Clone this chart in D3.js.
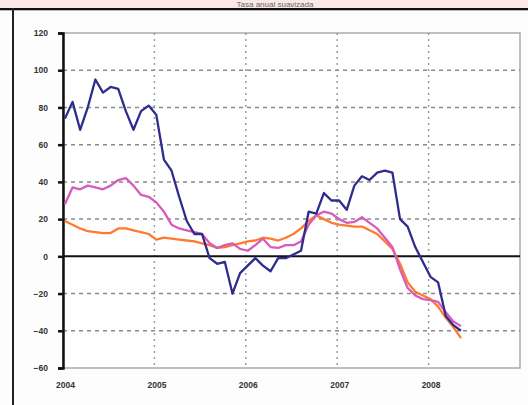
<!DOCTYPE html>
<html><head><meta charset="utf-8">
<script src="https://cdn.jsdelivr.net/npm/d3@7"></script>
<style>
html,body{margin:0;padding:0;background:#fdfdfd;}
svg{display:block;}
</style></head>
<body>
<svg id="c" width="528" height="405"></svg>
<script>
const title = "Tasa anual suavizada";
const startYear = 2004;
const yearTicks = [2004, 2005, 2006, 2007, 2008];
const yTicks = [-60, -40, -20, 0, 20, 40, 60, 80, 100, 120];
// monthly values Jan 2004 .. May 2008
const blue = [74,83,68,80,95,88,91,90,78,68,78,81,76,52,46,32,19,12,12,-1,-4,-3,-20,-9,-5,-1,-5,-8,-1,-1,1,3,24,23,34,30,30,25,38,43,41,45,46,45,20,16,5,-3,-11,-14,-32,-37,-40];
const magenta = [28,37,36,38,37,36,38,41,42,38,33,32,29,24,17,15,14,13,12,7,4.5,6,7,4,3,6,9.5,5,4.5,6,6,8,17,22,24,23,20,18,18.5,21,18,15,10,5,-7,-17,-21,-23,-23.5,-24.5,-30,-35,-37.5];
const orange = [19,17,15,13.5,13,12.5,12.5,15,15,14,13,12,9,10,9.5,9,8.5,8,7,6,4.5,5,6,7,8,8.5,10,9.5,8.5,10,12,15,19,22,20,18,17,16.5,16,16,14,12,8,4,-4,-14,-19,-21,-23,-27,-33,-38,-44];
const seriesColors = ["#ff7a2e", "#d65cbc", "#2e2c8c"];

const svg = d3.select("#c");
// top strip
svg.append("rect").attr("x",0).attr("y",0).attr("width",528).attr("height",8).attr("fill","#fbe8e6");
svg.append("text").attr("x",275).attr("y",7).attr("text-anchor","middle")
  .attr("font-family","Liberation Sans, Arial, sans-serif").attr("font-size",8).attr("fill","#666").text(title);
svg.append("rect").attr("x",0).attr("y",8).attr("width",528).attr("height",2).attr("fill","#111");
svg.append("rect").attr("x",0).attr("y",10).attr("width",528).attr("height",1).attr("fill","#bbb");
svg.append("rect").attr("x",12).attr("y",8).attr("width",2).attr("height",397).attr("fill","#222");

const x = d3.scaleLinear().domain([2004, 2009]).range([63, 520]);
const y = d3.scaleLinear().domain([-60, 120]).range([368, 33]);

// plot frame
svg.append("rect").attr("x",63).attr("y",33).attr("width",457).attr("height",335)
  .attr("fill","#fff").attr("stroke","#aaa").attr("stroke-width",1.5);

// horizontal grid
svg.append("g").selectAll("line").data(yTicks.filter(v=>v!==0 && v!==120 && v!==-60)).join("line")
  .attr("x1",63).attr("x2",520).attr("y1",d=>y(d)).attr("y2",d=>y(d))
  .attr("stroke","#8a8a8a").attr("stroke-width",1.5).attr("stroke-dasharray","4,4");
// vertical grid
svg.append("g").selectAll("line").data(yearTicks.slice(1)).join("line")
  .attr("x1",d=>x(d)).attr("x2",d=>x(d)).attr("y1",33).attr("y2",368)
  .attr("stroke","#9a9a9a").attr("stroke-width",1.5).attr("stroke-dasharray","2,4");

// zero line
svg.append("line").attr("x1",63).attr("x2",520).attr("y1",y(0)).attr("y2",y(0))
  .attr("stroke","#111").attr("stroke-width",2);

// left axis
const yAxis = d3.axisLeft(y).tickValues(yTicks).tickSize(5).tickPadding(9);
const ga = svg.append("g").attr("transform","translate(63,0)").call(yAxis);
ga.select(".domain").attr("stroke","#111").attr("stroke-width",2.5);
ga.selectAll(".tick line").attr("stroke","#111").attr("stroke-width",2.5);
ga.selectAll("text").attr("font-family","Liberation Sans, Arial, sans-serif").attr("font-size",8.5)
  .attr("fill","#333").attr("font-weight","bold").attr("dx","-1");

// x labels
const xAxis = d3.axisBottom(x).tickValues(yearTicks).tickFormat(d3.format("d")).tickSize(0).tickPadding(14);
const gx = svg.append("g").attr("transform","translate(2,368)").call(xAxis);
gx.select(".domain").remove();
gx.selectAll("text").attr("font-family","Liberation Sans, Arial, sans-serif").attr("font-size",8.5)
  .attr("fill","#333").attr("font-weight","bold");

const line = d3.line().x((d,i)=>x(startYear + (i+0.25)/12)).y(d=>y(d)).curve(d3.curveLinear);
[orange, magenta, blue].forEach((s,k)=>{
  svg.append("path").datum(s).attr("d",line).attr("fill","none")
    .attr("stroke",seriesColors[k]).attr("stroke-width",2.3).attr("stroke-linejoin","round");
});
</script>
</body></html>
